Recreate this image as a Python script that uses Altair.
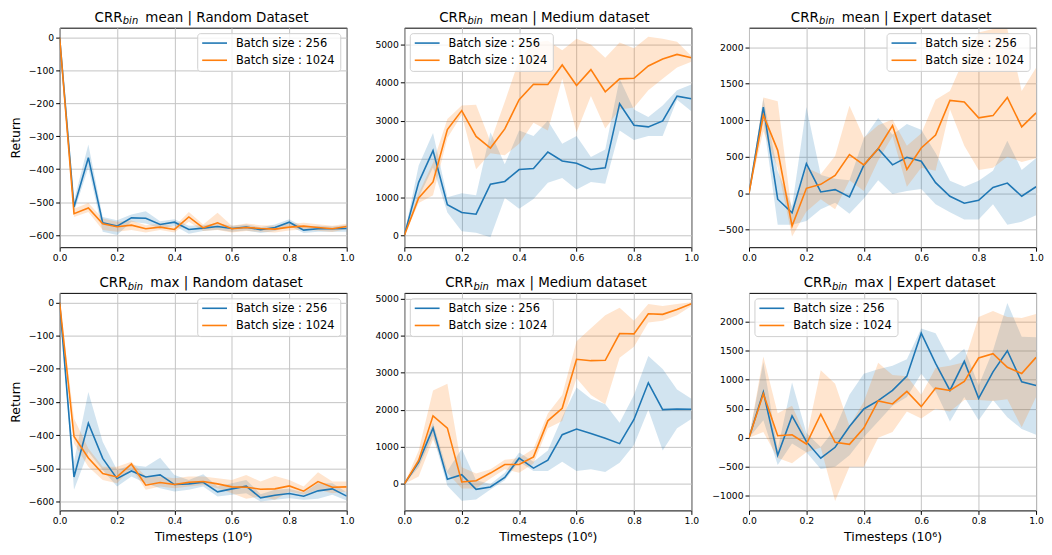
import altair as alt
import pandas as pd

FONT = "DejaVu Sans"
BLUE = "#1f77b4"
ORANGE = "#ff7f0e"
SERIES = ["Batch size : 256", "Batch size : 1024"]
COLORS = [BLUE, ORANGE]

T = [0.0, 0.05, 0.1, 0.15, 0.2, 0.25, 0.3, 0.35, 0.4, 0.45, 0.5,
     0.55, 0.6, 0.65, 0.7, 0.75, 0.8, 0.85, 0.9, 0.95, 1.0]

# ---- CRR_bin mean | Random Dataset
P1_B_MEAN = [0, -515, -365, -563, -573, -548, -549, -568, -561, -583, -579, -574, -580, -576, -584, -577, -561, -585, -581, -581, -580]
P1_B_LO = [0, -530, -395, -590, -600, -560, -565, -580, -572, -596, -588, -584, -590, -586, -594, -588, -572, -594, -590, -590, -590]
P1_B_HI = [0, -495, -325, -545, -555, -538, -528, -558, -552, -572, -570, -564, -572, -568, -576, -568, -552, -576, -572, -574, -570]
P1_O_MEAN = [0, -535, -518, -566, -575, -570, -581, -576, -583, -545, -578, -563, -581, -577, -580, -582, -576, -573, -577, -581, -574]
P1_O_LO = [0, -545, -530, -585, -590, -585, -592, -585, -592, -560, -588, -585, -592, -588, -590, -592, -586, -583, -587, -591, -582]
P1_O_HI = [0, -520, -503, -550, -560, -556, -570, -566, -574, -530, -568, -532, -572, -565, -570, -572, -566, -563, -567, -572, -566]

# ---- CRR_bin mean | Medium dataset
P2_B_MEAN = [0, 1390, 2220, 806, 598, 555, 1343, 1412, 1724, 1750, 2184, 1950, 1889, 1724, 1768, 3449, 2886, 2842, 2998, 3648, 3579]
P2_B_LO = [0, 1000, 1780, 600, 110, 70, -50, 980, 700, 950, 1380, 1500, 1200, 1400, 1350, 2750, 2500, 2600, 2600, 3550, 3250]
P2_B_HI = [0, 1830, 2680, 1000, 1100, 1050, 2700, 1860, 2750, 2600, 3000, 2400, 2600, 2050, 2250, 4100, 3300, 3100, 3400, 3800, 3950]
P2_O_MEAN = [0, 980, 1400, 2773, 3267, 2591, 2288, 2790, 3553, 3960, 3951, 4463, 3925, 4341, 3761, 4099, 4116, 4437, 4619, 4740, 4653]
P2_O_LO = [0, 850, 1050, 2550, 3150, 1730, 2150, 2100, 2400, 2950, 2750, 4100, 2700, 3650, 2800, 3300, 3350, 3800, 4100, 4400, 4550]
P2_O_HI = [0, 1100, 1900, 3050, 3400, 3420, 2450, 3500, 4600, 5050, 5100, 4850, 5150, 5000, 4650, 5050, 4900, 5200, 5150, 5070, 4700]

# ---- CRR_bin mean | Expert dataset
P3_B_MEAN = [0, 1180, -81, -267, 407, 18, 50, -50, 385, 611, 389, 493, 439, 145, -41, -136, -95, 81, 140, -41, 90]
P3_B_LO = [0, 1000, -430, -430, -380, -220, -130, -280, -70, 180, -10, 30, 60, -150, -260, -360, -360, -150, -430, -390, -300]
P3_B_HI = [0, 1300, 300, -180, 1180, 250, 200, 180, 750, 1030, 800, 950, 870, 550, 170, 90, 170, 310, 720, 320, 480]
P3_O_MEAN = [0, 1070, 588, -448, 68, 122, 244, 529, 389, 611, 928, 326, 620, 796, 1271, 1249, 1032, 1063, 1312, 910, 1100]
P3_O_LO = [0, 850, 350, -590, -250, -80, -220, 180, 30, 450, 780, 90, 350, 310, 1150, 650, 320, 350, 500, 430, 480]
P3_O_HI = [0, 1310, 1260, -280, 350, 260, 510, 1200, 760, 930, 1010, 650, 820, 1280, 1400, 1850, 2200, 2250, 2250, 1400, 1720]

# ---- CRR_bin max | Random dataset
P4_B_MEAN = [0, -526, -364, -470, -531, -508, -526, -520, -549, -547, -542, -571, -562, -554, -589, -581, -576, -584, -568, -562, -584]
P4_B_LO = [0, -565, -450, -505, -555, -525, -545, -560, -570, -565, -555, -585, -580, -575, -600, -595, -590, -595, -592, -580, -597]
P4_B_HI = [0, -480, -270, -420, -505, -490, -495, -468, -520, -535, -518, -555, -545, -535, -578, -565, -562, -573, -545, -545, -572]
P4_O_MEAN = [0, -404, -469, -516, -526, -487, -551, -543, -549, -542, -540, -547, -556, -557, -563, -562, -553, -569, -540, -557, -556]
P4_O_LO = [0, -425, -495, -535, -545, -500, -565, -555, -560, -555, -550, -560, -575, -592, -585, -595, -570, -580, -565, -575, -570]
P4_O_HI = [0, -350, -440, -495, -495, -480, -525, -525, -530, -525, -525, -530, -535, -520, -540, -523, -535, -555, -512, -540, -540]

# ---- CRR_bin max | Medium dataset
P5_B_MEAN = [0, 588, 1506, 125, 250, -143, -80, 178, 695, 428, 642, 1328, 1480, 1360, 1230, 1087, 1738, 2727, 2005, 2023, 2014]
P5_B_LO = [0, 450, 1300, -50, -450, -420, -150, 100, 600, 350, 350, 600, 350, 400, 320, 570, 1050, 2000, 900, 1500, 1750]
P5_B_HI = [0, 700, 1650, 350, 950, 100, 0, 300, 850, 600, 900, 1800, 2600, 2300, 2150, 1650, 2400, 3450, 3100, 2550, 2300]
P5_O_MEAN = [0, 633, 1836, 1506, 53, 89, 294, 526, 526, 731, 1702, 2041, 3360, 3324, 3333, 4055, 4046, 4590, 4572, 4706, 4857]
P5_O_LO = [0, 200, 1200, 300, -120, -120, 150, 400, 300, 550, 1500, 1700, 2850, 2400, 2150, 3400, 3700, 4350, 4400, 4550, 4800]
P5_O_HI = [0, 900, 2520, 2700, 450, 280, 400, 650, 700, 950, 1900, 2400, 3850, 4200, 4550, 4750, 4400, 4850, 4800, 4850, 4900]

# ---- CRR_bin max | Expert dataset
P6_B_MEAN = [0, 786, -302, 376, -68, -353, -165, 194, 495, 638, 814, 1059, 1799, 1281, 814, 1315, 677, 1133, 1497, 962, 899]
P6_B_LO = [0, 300, -470, -100, -250, -540, -500, -300, 10, 280, 550, 700, 1100, 800, 280, 700, 300, 650, 350, 150, 50]
P6_B_HI = [0, 1300, -200, 950, 80, -160, 150, 740, 1100, 1180, 1240, 1350, 1880, 1800, 1330, 1530, 900, 1500, 2320, 1740, 1730]
P6_O_MEAN = [0, 757, 34, 51, -108, 404, -80, -114, 165, 632, 581, 797, 535, 854, 814, 968, 1372, 1446, 1212, 1104, 1383]
P6_O_LO = [0, 100, -350, -440, -250, -170, -1090, -500, -500, 0, 100, 450, 330, 500, 450, 650, 650, 630, 660, 180, 700]
P6_O_HI = [0, 1400, 420, 550, 0, 1160, 930, 200, 620, 1290, 1080, 1060, 740, 1200, 1240, 1300, 2080, 2180, 2080, 2060, 2130]

X_TICKS = [0.0, 0.2, 0.4, 0.6, 0.8, 1.0]
MINUS = "replace(datum.label, '-', '\u2212')"

W = 289
H_TOP, H_BOT = 221, 219
LEG_W, LEG_H, LEG_OFF = 144, 38, 6
ROW_Y = [15.5, 32.8]


def one(s):
    return alt.Chart(pd.DataFrame({"s": [s]}))


def legend_layers(orient):
    bx = W - LEG_OFF - LEG_W if orient == "right" else LEG_OFF
    layers = [one("box").mark_rect(fill="white", fillOpacity=0.8, stroke="#d0d0d0",
                                   strokeWidth=1, cornerRadius=3).encode(
        x=alt.value(bx), x2=alt.value(bx + LEG_W),
        y=alt.value(LEG_OFF), y2=alt.value(LEG_OFF + LEG_H))]
    for name, col, ry in zip(SERIES, COLORS, ROW_Y):
        layers.append(one(name).mark_rule(strokeWidth=1.6, color=col).encode(
            x=alt.value(bx + 4.5), x2=alt.value(bx + 29.5), y=alt.value(ry)))
        layers.append(one(name).mark_text(align="left", baseline="middle", font=FONT,
                                          fontSize=11.5, color="black").encode(
            text="s:N", x=alt.value(bx + 38.5), y=alt.value(ry + 0.5)))
    return layers


def panel(rest, bin_x, b, o, ydom, yticks, legend_orient, ytitle, xtitle, h):
    rows = []
    for name, (m, lo, hi) in zip(SERIES, [b, o]):
        for t, mv, l, hv in zip(T, m, lo, hi):
            rows.append({"t": t, "series": name, "mean": mv, "lo": l, "hi": hv})
    df = pd.DataFrame(rows)

    xscale = alt.Scale(domain=[0, 1], nice=False)
    yscale = alt.Scale(domain=ydom, nice=False, zero=False)
    xaxis = alt.Axis(values=X_TICKS, format=".1f", title=xtitle,
                     labelFlush=False, labelOverlap=False)
    yaxis = alt.Axis(values=yticks, format="d", title=ytitle, labelExpr=MINUS,
                     labelFlush=False, labelOverlap=False)
    cscale = alt.Scale(domain=SERIES, range=COLORS)

    base = alt.Chart(df)
    band = base.mark_area(fillOpacity=0.2, clip=True).encode(
        x=alt.X("t:Q", scale=xscale, axis=xaxis),
        y=alt.Y("lo:Q", scale=yscale, axis=yaxis),
        y2="hi:Q",
        fill=alt.Fill("series:N", scale=cscale, legend=None),
        detail="series:N",
    )
    line = base.mark_line(strokeWidth=1.6, clip=True).encode(
        x=alt.X("t:Q", scale=xscale, axis=xaxis),
        y=alt.Y("mean:Q", scale=yscale, axis=yaxis),
        stroke=alt.Stroke("series:N", scale=cscale, legend=None),
    )

    t1 = one("CRR").mark_text(
        align="right", baseline="alphabetic", font=FONT, fontSize=13.5, color="black"
    ).encode(text="s:N", x=alt.value(bin_x), y=alt.value(-6))
    t2 = one("bin").mark_text(
        align="left", baseline="alphabetic", font=FONT, fontSize=10, fontStyle="italic", color="black"
    ).encode(text="s:N", x=alt.value(bin_x + 0.3), y=alt.value(-3.3))
    t3 = one(rest).mark_text(
        align="left", baseline="alphabetic", font=FONT, fontSize=13.5, color="black"
    ).encode(text="s:N", x=alt.value(bin_x + 23), y=alt.value(-6))

    return alt.layer(band, line, t1, t2, t3, *legend_layers(legend_orient)).properties(width=W, height=h)


p1 = panel("mean | Random Dataset", 63.3, (P1_B_MEAN, P1_B_LO, P1_B_HI), (P1_O_MEAN, P1_O_LO, P1_O_HI),
           [-637, 30], [0, -100, -200, -300, -400, -500, -600], "right", "Return", None, H_TOP)
p2 = panel("mean | Medium dataset", 63.3, (P2_B_MEAN, P2_B_LO, P2_B_HI), (P2_O_MEAN, P2_O_LO, P2_O_HI),
           [-310, 5440], [0, 1000, 2000, 3000, 4000, 5000], "left", None, None, H_TOP)
p3 = panel("mean | Expert dataset", 70.3, (P3_B_MEAN, P3_B_LO, P3_B_HI), (P3_O_MEAN, P3_O_LO, P3_O_HI),
           [-738, 2267], [-500, 0, 500, 1000, 1500, 2000], "right", None, None, H_TOP)
p4 = panel("max | Random dataset", 68.3, (P4_B_MEAN, P4_B_LO, P4_B_HI), (P4_O_MEAN, P4_O_LO, P4_O_HI),
           [-627, 29], [0, -100, -200, -300, -400, -500, -600], "right", "Return", "Timesteps (10⁶)", H_BOT)
p5 = panel("max | Medium dataset", 69.3, (P5_B_MEAN, P5_B_LO, P5_B_HI), (P5_O_MEAN, P5_O_LO, P5_O_HI),
           [-713, 5151], [0, 1000, 2000, 3000, 4000, 5000], "left", None, "Timesteps (10⁶)", H_BOT)
p6 = panel("max | Expert dataset", 83.3, (P6_B_MEAN, P6_B_LO, P6_B_HI), (P6_O_MEAN, P6_O_LO, P6_O_HI),
           [-1252, 2493], [-1000, -500, 0, 500, 1000, 1500, 2000], "left", None, "Timesteps (10⁶)", H_BOT)

chart = alt.concat(p1, p2, p3, p4, p5, p6, columns=3,
                   spacing={"row": 46, "column": 58}, bounds="flush")
chart = chart.resolve_scale(stroke="independent", fill="independent",
                            x="independent", y="independent")

chart = chart.properties(
    padding={"left": 0, "top": 0, "right": 0, "bottom": 0},
    background="white",
).configure_view(
    stroke="black", strokeWidth=1
).configure_axis(
    labelFont=FONT, labelFontSize=9.3, labelColor="black",
    titleFont=FONT, titleFontSize=12.5, titleColor="black", titleFontWeight="normal",
    tickColor="black", tickSize=4, tickWidth=1, labelPadding=2,
    domain=False, grid=True, gridColor="#c4c4c4", gridWidth=1,
).configure_axisY(
    titlePadding=6
).configure_axisX(
    titlePadding=5
)

chart.save("out.html", embed_options={"renderer": "svg", "actions": False})
